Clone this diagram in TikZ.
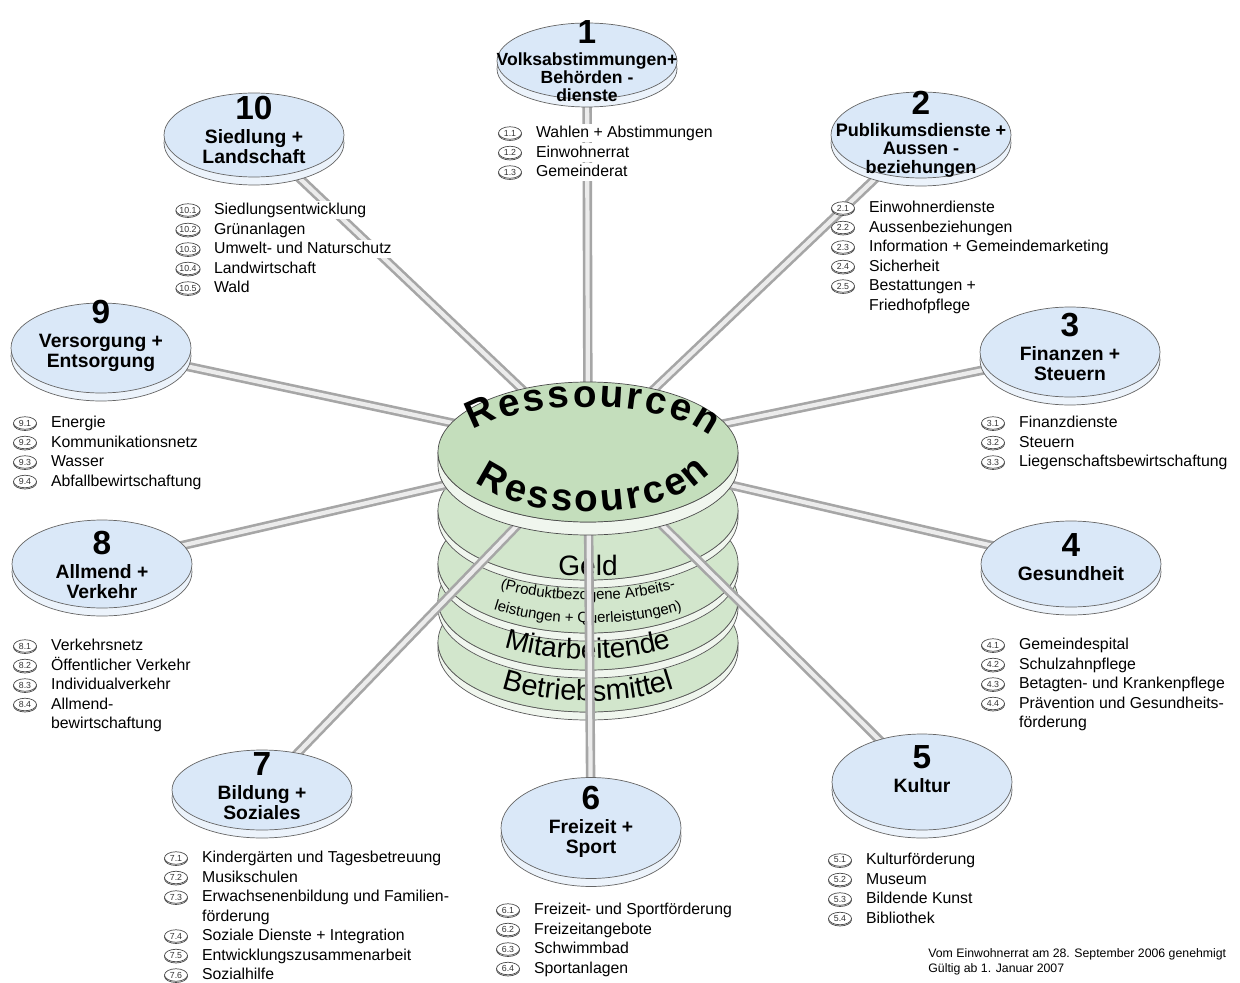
\documentclass[tikz,border=0pt]{standalone}
\usepackage{fontspec}
\setmainfont{Liberation Sans}
\usetikzlibrary{shapes.geometric, shadows, decorations.text}

\definecolor{discblue}{RGB}{218,232,248}
\definecolor{discrim}{RGB}{236,243,251}
\definecolor{stackgreen}{RGB}{196,222,188}
\definecolor{stacklight}{RGB}{210,230,204}
\definecolor{stackrim}{RGB}{240,246,238}

\pgfdeclarelayer{bg}
\pgfdeclarelayer{spokes}
\pgfsetlayers{bg,spokes,main}

\newcommand{\discno}[1]{{\fontsize{19}{19}\selectfont #1}\\[2pt]}
% one list of services below a disc: name, x, y of first line, entries
\newcommand{\leistungsliste}[4]{%
  \foreach \n/\t [count=\k from 0] in {#4}{%
    \ifx\n\empty\else
      \node[bul] (#1b\k) at (#2,#3+19.5*\k) {\n};
    \fi
    \node[leistung] (#1t\k) at (#2+24,#3+19.5*\k) {\t};
  }}

\tikzset{
  disc/.style={ellipse, draw=gray!80!black, fill=discblue, minimum width=3.6cm,
    minimum height=1.78cm, inner sep=0pt,
    copy shadow={shadow xshift=0pt, shadow yshift=-0.16cm, fill=discrim, draw=gray!80!black}},
  disctitle/.style={align=center, inner sep=0pt, font=\bfseries\fontsize{11}{11.5}\selectfont},
  bul/.style={ellipse, draw=gray!60!black, fill=white, inner sep=0pt, minimum width=0.46cm,
    minimum height=0.25cm, font=\fontsize{5}{5}\selectfont, text=gray!40!black,
    copy shadow={shadow xshift=0pt, shadow yshift=-0.7pt, fill=gray!10, draw=gray!60!black}},
  leistung/.style={anchor=west, fill=white, inner xsep=1pt, inner ysep=0pt, text height=8pt,
    text depth=2.5pt, font=\fontsize{9}{11}\selectfont},
  spoke/.style={line width=1.5pt, draw=gray!70, double=gray!15, double distance=2.4pt},
}

\begin{document}
\begin{tikzpicture}[x=0.02cm, y=-0.02cm]
\useasboundingbox (0,0) rectangle (1240,983);
\coordinate (hub) at (588,452);

% lower discs of the stack
\begin{pgfonlayer}{bg}
\fill[white] (0,0) rectangle (1240,983);
\foreach \cy in {642,600,563,510} {
  \filldraw[draw=gray!70!black, fill=stackrim] (438,\cy) arc[start angle=180, end angle=0, x radius=150, y radius=70]
    -- ++(0,8) arc[start angle=0, end angle=180, x radius=150, y radius=70] -- cycle;
  \filldraw[draw=gray!70!black, fill=stacklight] (588,\cy) ellipse[x radius=150, y radius=70];
}
\node[font=\fontsize{16}{16}\selectfont] (geld) at (588,565) {Geld};
\path[decorate, decoration={text along path, text align=center,
    text={|\fontsize{8.5}{9}\selectfont|(Produktbezogene Arbeits-}}]
  (588,530) ++(160:160 and 70) arc[start angle=160, end angle=20, x radius=160, y radius=70];
\path[decorate, decoration={text along path, text align=center,
    text={|\fontsize{8.5}{9}\selectfont|leistungen + Querleistungen)}}]
  (588,553) ++(160:160 and 70) arc[start angle=160, end angle=20, x radius=160, y radius=70];
\path[decorate, decoration={text along path, text align=center,
    text={|\fontsize{16}{16}\selectfont|Mitarbeitende}}]
  (588,589) ++(160:150 and 70) arc[start angle=160, end angle=20, x radius=150, y radius=70];
\path[decorate, decoration={text along path, text align=center,
    text={|\fontsize{16.5}{16.5}\selectfont|Betriebsmittel}}]
  (588,631) ++(160:150 and 70) arc[start angle=160, end angle=20, x radius=150, y radius=70];
\end{pgfonlayer}

% top disc
\filldraw[draw=black!70, fill=stackrim] (438,452) arc[start angle=180, end angle=0, x radius=150, y radius=70]
  -- ++(0,13) arc[start angle=0, end angle=180, x radius=150, y radius=70] -- cycle;
\filldraw[draw=black!70, fill=stackgreen] (hub) ellipse[x radius=150, y radius=70];
\path[decorate, decoration={text along path, text align=fit to path,
    text={|\bfseries\fontsize{22}{22}\selectfont|Ressourcen}}]
  (hub) ++(208:130 and 45) arc[start angle=208, end angle=340, x radius=130, y radius=45];
\path[decorate, decoration={text along path, text align=fit to path,
    text={|\bfseries\fontsize{22}{22}\selectfont|Ressourcen}}]
  (hub) ++(150:130 and 60) arc[start angle=150, end angle=20, x radius=130, y radius=60];

% discs
\node[disc, minimum height=1.52cm] (d1) at (587,61) {};
\node[disc, minimum height=1.72cm] (d2) at (921,135) {};
\node[disc, minimum height=1.8cm] (d3) at (1070,352) {};
\node[disc, minimum height=1.72cm] (d4) at (1071,564) {};
\node[disc, minimum height=1.92cm] (d5) at (922,782) {};
\node[disc, minimum height=2.02cm] (d6) at (591,828) {};
\node[disc, minimum height=1.6cm] (d7) at (262,790) {};
\node[disc, minimum height=1.76cm] (d8) at (102,564) {};
\node[disc, minimum height=1.8cm] (d9) at (101,348) {};
\node[disc, minimum height=1.68cm] (d10) at (254,135) {};

\node[disctitle, font=\bfseries\fontsize{10}{10.3}\selectfont] (l1) at (587,61) {\discno{1}Volksabstimmungen+\\Behörden -\\dienste};
\node[disctitle, font=\bfseries\fontsize{10.3}{10.5}\selectfont] (l2) at (921,134) {\discno{2}Publikumsdienste +\\Aussen -\\beziehungen};
\node[disctitle] (l3) at (1070,347) {\discno{3}Finanzen +\\Steuern};
\node[disctitle] (l4) at (1071,557) {\discno{4}Gesundheit};
\node[disctitle] (l5) at (922,769) {\discno{5}Kultur};
\node[disctitle] (l6) at (591,822) {\discno{6}Freizeit +\\Sport};
\node[disctitle] (l7) at (262,786) {\discno{7}Bildung +\\Soziales};
\node[disctitle] (l8) at (102,565) {\discno{8}Allmend +\\Verkehr};
\node[disctitle] (l9) at (101,336) {\discno{9}Versorgung +\\Entsorgung};
\node[disctitle] (l10) at (254,130) {\discno{10}Siedlung +\\Landschaft};

\begin{pgfonlayer}{spokes}
\foreach \i in {1,...,10}
  \draw[spoke] (hub) -- (d\i.center);
\end{pgfonlayer}

% services
\leistungsliste{a}{510}{133}{1.1/Wahlen + Abstimmungen, 1.2/Einwohnerrat, 1.3/Gemeinderat}
\leistungsliste{b}{843}{208}{2.1/Einwohnerdienste, 2.2/Aussenbeziehungen, 2.3/Information + Gemeindemarketing,
  2.4/Sicherheit, 2.5/Bestattungen +, /Friedhofpflege}
\leistungsliste{c}{993}{423}{3.1/Finanzdienste, 3.2/Steuern, 3.3/Liegenschaftsbewirtschaftung}
\leistungsliste{d}{993}{645}{4.1/Gemeindespital, 4.2/Schulzahnpflege, 4.3/Betagten- und Krankenpflege,
  4.4/Prävention und Gesundheits-, /förderung}
\leistungsliste{e}{840}{860}{5.1/Kulturförderung, 5.2/Museum, 5.3/Bildende Kunst, 5.4/Bibliothek}
\leistungsliste{f}{508}{910}{6.1/Freizeit- und Sportförderung, 6.2/Freizeitangebote, 6.3/Schwimmbad, 6.4/Sportanlagen}
\leistungsliste{g}{176}{858}{7.1/Kindergärten und Tagesbetreuung, 7.2/Musikschulen,
  7.3/Erwachsenenbildung und Familien-, /förderung, 7.4/Soziale Dienste + Integration,
  7.5/Entwicklungszusammenarbeit, 7.6/Sozialhilfe}
\leistungsliste{h}{25}{646}{8.1/Verkehrsnetz, 8.2/Öffentlicher Verkehr, 8.3/Individualverkehr, 8.4/Allmend-, /bewirtschaftung}
\leistungsliste{i}{25}{423}{9.1/Energie, 9.2/Kommunikationsnetz, 9.3/Wasser, 9.4/Abfallbewirtschaftung}
\leistungsliste{j}{188}{210}{10.1/Siedlungsentwicklung, 10.2/Grünanlagen, 10.3/Umwelt- und Naturschutz,
  10.4/Landwirtschaft, 10.5/Wald}

\node[anchor=west, align=left, inner sep=0pt, font=\fontsize{7}{8.5}\selectfont] (stand) at (928,962)
  {Vom Einwohnerrat am 28. September 2006 genehmigt\\Gültig ab 1. Januar 2007};
\end{tikzpicture}
\end{document}
